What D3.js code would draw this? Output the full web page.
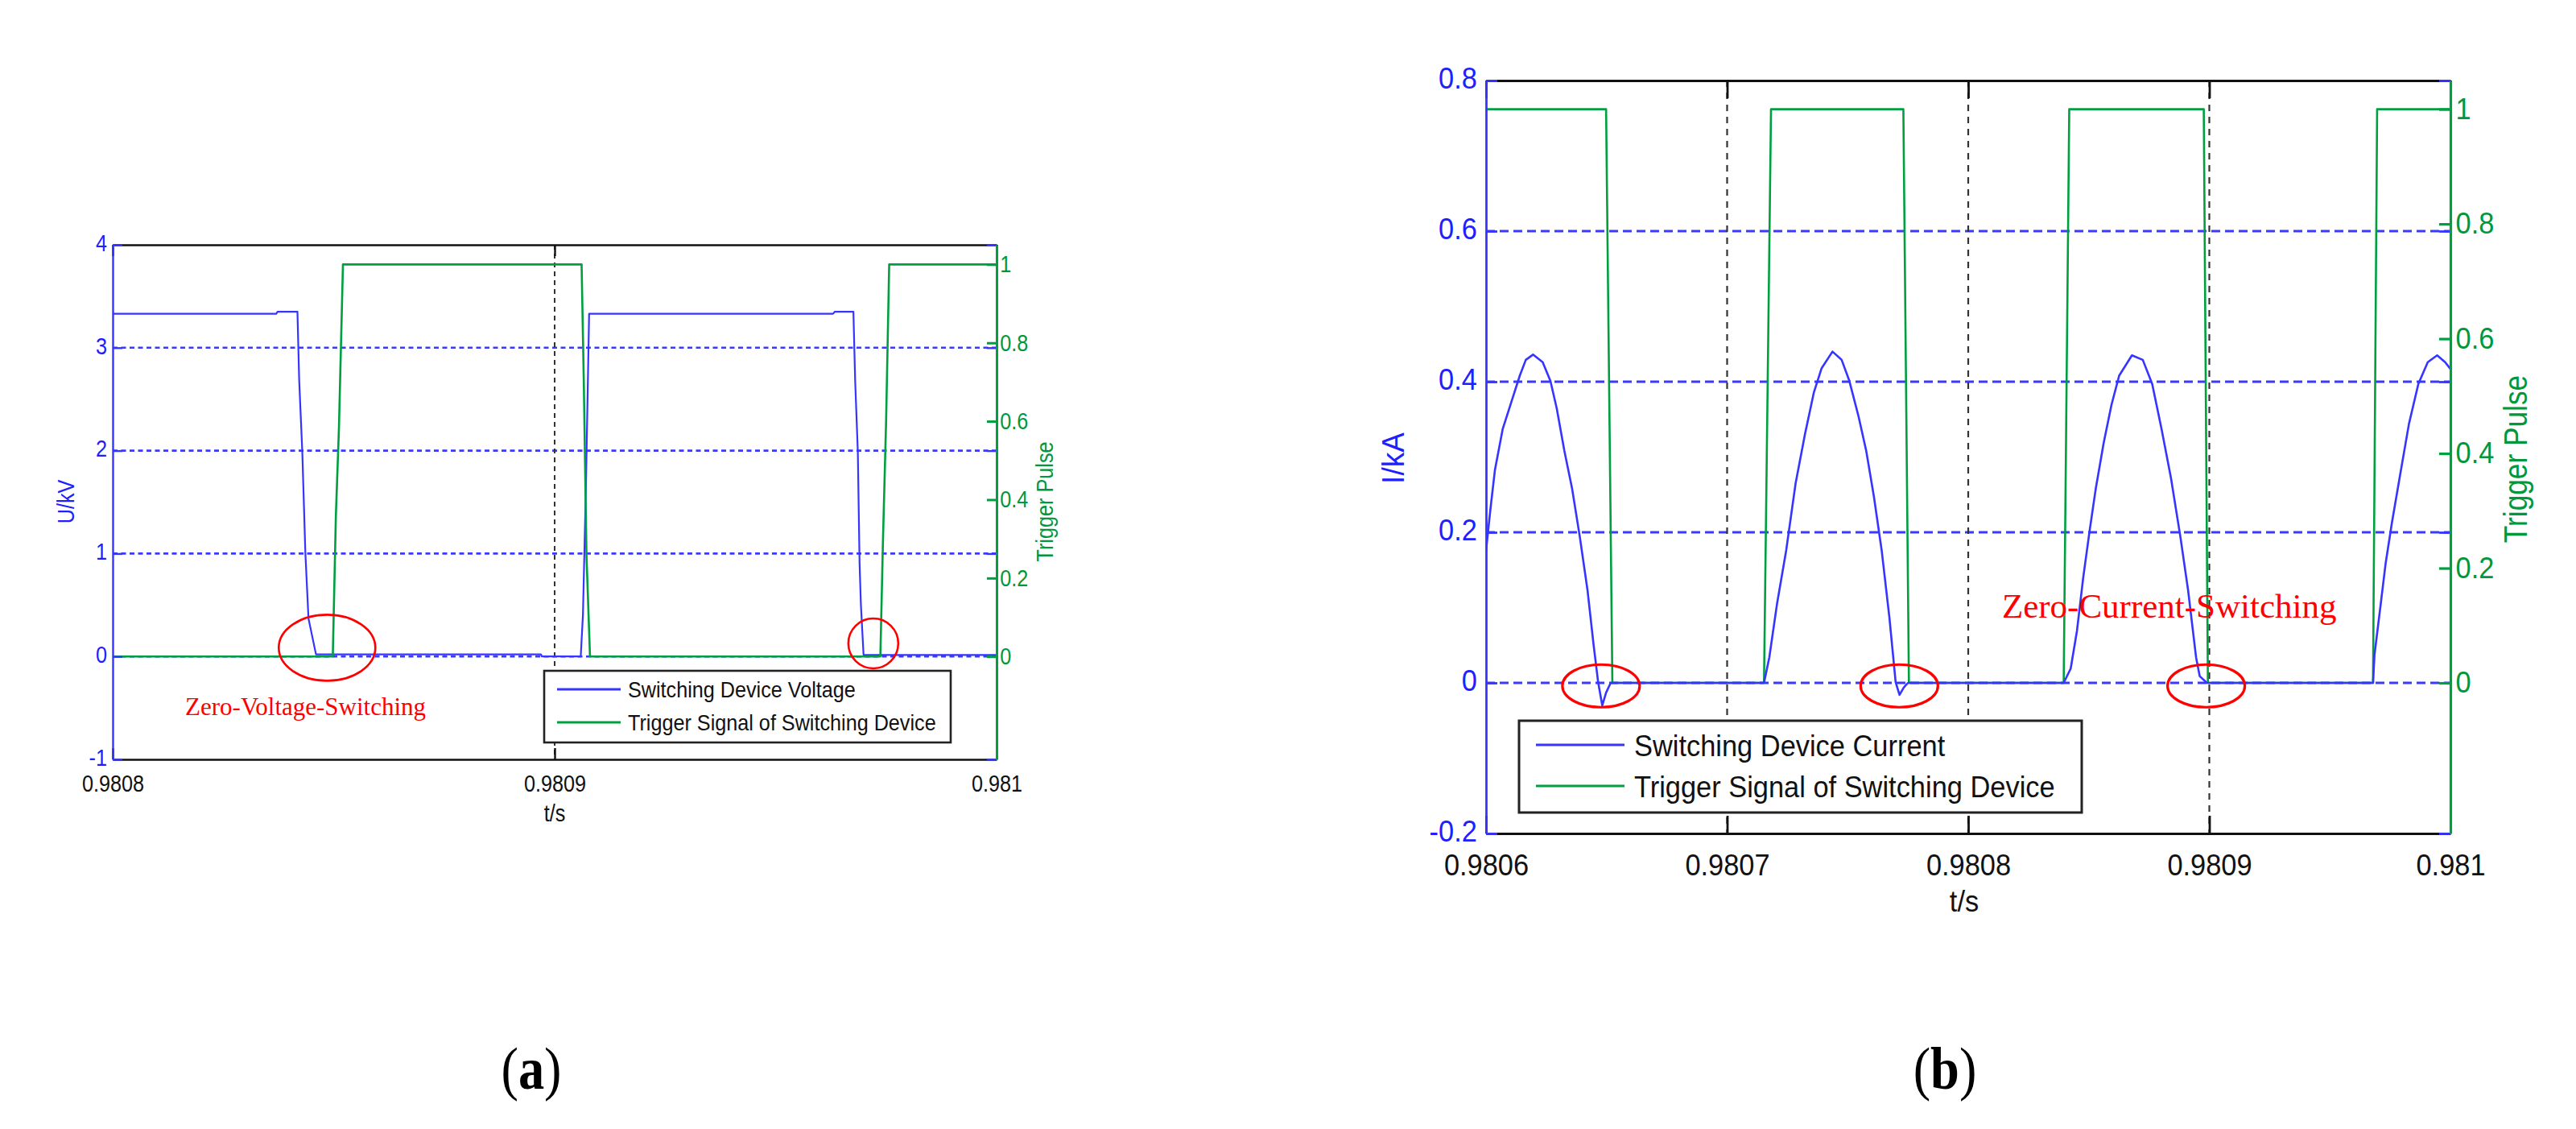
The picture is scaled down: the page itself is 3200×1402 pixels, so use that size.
<!DOCTYPE html>
<html><head><meta charset="utf-8">
<script src="https://cdn.jsdelivr.net/npm/d3@7"></script>
<style>body{margin:0;background:#fff}svg{display:block}</style>
</head><body>
<svg id="c" width="3200" height="1402"></svg>
<script>
// ---------------- DATA ----------------
// Panel (a): switching device voltage (kV) and trigger pulse
const voltageT = [0.9808000,0.9808370,0.9808373,0.9808418,0.9808422,0.9808429,0.9808436,0.9808443,0.9808460,0.9808969,0.9808971,0.9809059,0.9809064,0.9809071,0.9809078,0.9809630,0.9809634,0.9809676,0.9809680,0.9809686,0.9809690,0.9809693,0.9809699,0.9810000];
const voltageV = [3.33,3.33,3.35,3.35,2.68,1.99,1.0,0.37,0.02,0.02,0.0,0.0,0.4,1.7,3.33,3.33,3.35,3.35,2.68,1.99,0.9,0.5,0.015,0.015];
const triggerAT = [0.9808000,0.9808498,0.9808505,0.9808512,0.9808521,0.9809061,0.9809066,0.9809072,0.9809080,0.9809737,0.9809743,0.9809750,0.9809757,0.9810000];
const triggerAV = [0,0,0.36,0.585,1,1,0.7,0.26,0,0,0.3,0.6,1,1];

// Panel (b): switching device current (kA) and trigger pulse
const currentT = [0.9806000,0.9806008,0.9806018,0.9806037,0.9806069,0.9806108,0.9806140,0.9806165,0.9806195,0.9806235,0.9806267,0.9806293,0.9806325,0.9806357,0.9806389,0.9806421,0.9806446,0.9806465,0.9806482,0.9806498,0.9806517,
  0.9807153,0.9807175,0.9807207,0.9807245,0.9807284,0.9807322,0.9807360,0.9807392,0.9807437,0.9807475,0.9807507,0.9807545,0.9807577,0.9807609,0.9807641,0.9807673,0.9807699,0.9807715,0.9807733,0.9807750,
  0.9808396,0.9808425,0.9808451,0.9808477,0.9808503,0.9808529,0.9808562,0.9808594,0.9808626,0.9808679,0.9808724,0.9808763,0.9808802,0.9808841,0.9808880,0.9808912,0.9808945,0.9808960,0.9808990,
  0.9809679,0.9809685,0.9809711,0.9809731,0.9809757,0.9809789,0.9809828,0.9809867,0.9809906,0.9809945,0.9809978,0.9810000];
const currentI = [0.175,0.200,0.230,0.283,0.337,0.376,0.408,0.429,0.436,0.426,0.401,0.365,0.308,0.258,0.194,0.123,0.051,0.001,-0.030,-0.013,0.0,
  0.0,0.034,0.105,0.176,0.265,0.329,0.386,0.418,0.440,0.429,0.401,0.354,0.308,0.247,0.176,0.087,0.001,-0.016,-0.006,0.0,
  0.0,0.019,0.069,0.140,0.201,0.258,0.319,0.369,0.408,0.435,0.429,0.397,0.337,0.272,0.194,0.123,0.034,0.009,0.0,
  0.0,0.037,0.105,0.158,0.212,0.272,0.344,0.397,0.426,0.435,0.426,0.417];
const triggerBT = [0.9806000,0.9806498,0.9806524,0.9807153,0.9807182,0.9807731,0.9807754,0.9808396,0.9808419,0.9808977,0.9808994,0.9809679,0.9809696,0.9810000];
const triggerBV = [1,1,0,0,1,1,0,0,1,1,0,0,1,1];

// Axes / ticks
const xDomainA = [0.9808, 0.9810];
const xTicksA = [0.9808, 0.9809, 0.9810];
const xTickLabelsA = ["0.9808", "0.9809", "0.981"];
const leftDomainA = [-1, 4];
const leftTicksA = [-1, 0, 1, 2, 3, 4];
const leftTickLabelsA = ["-1", "0", "1", "2", "3", "4"];
const hGridA = [0, 1, 2, 3];
const vGridA = [0.9809];

const xDomainB = [0.9806, 0.9810];
const xTicksB = [0.9806, 0.9807, 0.9808, 0.9809, 0.9810];
const xTickLabelsB = ["0.9806", "0.9807", "0.9808", "0.9809", "0.981"];
const leftDomainB = [-0.2, 0.8];
const leftTicksB = [-0.2, 0, 0.2, 0.4, 0.6, 0.8];
const leftTickLabelsB = ["-0.2", "0", "0.2", "0.4", "0.6", "0.8"];
const hGridB = [0, 0.2, 0.4, 0.6];
const vGridB = [0.9807, 0.9808, 0.9809];

const rightDomain = [-0.2625, 1.05];
const rightTicks = [0, 0.2, 0.4, 0.6, 0.8, 1];
const rightTickLabels = ["0", "0.2", "0.4", "0.6", "0.8", "1"];

// Annotations
const seriesNamesA = ["Switching Device Voltage", "Trigger Signal of Switching Device"];
const seriesNamesB = ["Switching Device Current", "Trigger Signal of Switching Device"];
const zvsMarkT = [0.9808485, 0.9809721];
const zvsMarkV = [0.085, 0.127];
const zcsMarkT = [0.9806477, 0.9807714, 0.9808987];
const zcsMarkI = [-0.004, -0.004, -0.004];
const zvsLabel = {text: "Zero-Voltage-Switching", t: 0.9808164, v: -0.571};
const zcsLabel = {text: "Zero-Current-Switching", t: 0.9808140, v: 0.0866};

// ---------------- STYLE ----------------
const SANS = "'Liberation Sans', Arial, sans-serif";
const SERIF = "'Liberation Serif', 'Times New Roman', serif";
const LBLUE = "#3535ff", GBLUE = "#3a3aff", TBLUE = "#2020ff";
const GREEN = "#00a040", TGREEN = "#00983a", RED = "#ff0000";

const svg = d3.select("#c");

function txt(g, x, y, s, o) {
  const t = g.append("text")
    .attr("transform", `translate(${x},${y}) rotate(${o.rot||0}) scale(${o.sx||1},1)`)
    .attr("font-family", o.family || SANS)
    .attr("font-size", o.fs)
    .attr("fill", o.fill || "#111")
    .attr("text-anchor", o.anchor || "start")
    .text(s);
  if (o.weight) t.attr("font-weight", o.weight);
  return t;
}

function styleAxis(sel, lineColor, textColor, w, fs, sx, keepDomain, dy) {
  sel.attr("font-size", null).attr("font-family", null);
  if (keepDomain) sel.select(".domain").attr("stroke", lineColor).attr("stroke-width", w);
  else sel.select(".domain").remove();
  sel.selectAll(".tick line").attr("stroke", lineColor).attr("stroke-width", w);
  const t = sel.selectAll(".tick text").attr("fill", textColor).attr("font-size", fs)
    .attr("font-family", SANS).attr("transform", `scale(${sx},1)`);
  if (dy) t.attr("dy", dy);
}

function drawPanel(p) {
  const g = svg.append("g");
  const x = d3.scaleLinear().domain(p.xDomain).range([p.left, p.right]);
  const yL = d3.scaleLinear().domain(p.leftDomain).range([p.bottom, p.top]);
  const yR = d3.scaleLinear().domain(rightDomain).range([p.bottom, p.top]);

  svg.append("clipPath").attr("id", "clip" + p.id).append("rect")
    .attr("x", p.left).attr("y", p.top - 2).attr("width", p.right - p.left).attr("height", p.bottom - p.top + 4);

  // grids
  g.append("g").selectAll("line").data(p.hGrid).join("line")
    .attr("x1", p.left).attr("x2", p.right).attr("y1", d => yL(d)).attr("y2", d => yL(d))
    .attr("stroke", GBLUE).attr("stroke-width", p.gridW).attr("stroke-dasharray", p.hDash);
  g.append("g").selectAll("line").data(p.vGrid).join("line")
    .attr("x1", d => x(d)).attr("x2", d => x(d)).attr("y1", p.top).attr("y2", p.bottom)
    .attr("stroke", "#333").attr("stroke-width", p.vGridW).attr("stroke-dasharray", p.vDash);

  const lineL = d3.line().x(d => x(d[0])).y(d => yL(d[1]));
  const lineR = d3.line().x(d => x(d[0])).y(d => yR(d[1]));
  const series = g.append("g").attr("clip-path", `url(#clip${p.id})`);
  const drawBlue = () => series.append("path").datum(d3.zip(p.blueT, p.blueV)).attr("d", lineL)
    .attr("fill", "none").attr("stroke", LBLUE).attr("stroke-width", p.blueW).attr("stroke-linejoin", "round");
  const drawGreen = () => series.append("path").datum(d3.zip(p.greenT, p.greenV)).attr("d", lineR)
    .attr("fill", "none").attr("stroke", GREEN).attr("stroke-width", p.greenW).attr("stroke-linejoin", "round");
  if (p.blueOnTop) { drawGreen(); drawBlue(); } else { drawBlue(); drawGreen(); }

  // top frame line with ticks
  g.append("g").attr("transform", `translate(0,${p.top})`)
    .call(d3.axisTop(x).tickValues(p.xTicks).tickFormat(() => "").tickSizeInner(-p.xTickLen).tickSizeOuter(0))
    .call(s => styleAxis(s, "#111", "#111", p.axisW, p.fs, p.sx, true));
  // bottom axis
  g.append("g").attr("transform", `translate(0,${p.bottom})`)
    .call(d3.axisBottom(x).tickValues(p.xTicks).tickFormat((d, i) => p.xTickLabels[i])
      .tickSizeInner(-p.xTickLen).tickSizeOuter(0).tickPadding(p.xPad))
    .call(s => styleAxis(s, "#111", "#111", p.axisW, p.fs, p.sx, true));
  // mirrored left ticks on right side
  g.append("g").attr("transform", `translate(${p.right},0)`)
    .call(d3.axisRight(yL).tickValues(p.leftTicks).tickFormat(() => "").tickSizeInner(-p.yTickLen).tickSizeOuter(0))
    .call(s => styleAxis(s, LBLUE, TBLUE, p.axisW, p.fs, p.sx, false));
  // left axis
  g.append("g").attr("transform", `translate(${p.left},0)`)
    .call(d3.axisLeft(yL).tickValues(p.leftTicks).tickFormat((d, i) => p.leftTickLabels[i])
      .tickSizeInner(-p.yTickLen).tickSizeOuter(0).tickPadding(p.lPad))
    .call(s => styleAxis(s, LBLUE, TBLUE, p.axisW, p.fs, p.sx, true, "0.25em"));
  // right axis
  g.append("g").attr("transform", `translate(${p.right},0)`)
    .call(d3.axisRight(yR).tickValues(rightTicks).tickFormat((d, i) => rightTickLabels[i])
      .tickSizeInner(-p.yTickLen).tickSizeOuter(0).tickPadding(p.rPad))
    .call(s => styleAxis(s, GREEN, TGREEN, p.rAxisW, p.fs, p.sx, true));

  return {g, x, yL, yR};
}

// ---------------- PANEL (a) ----------------
const A = drawPanel({
  id: "a", left: 140, right: 1238, top: 304, bottom: 943,
  xDomain: xDomainA, leftDomain: leftDomainA,
  xTicks: xTicksA, xTickLabels: xTickLabelsA,
  leftTicks: leftTicksA, leftTickLabels: leftTickLabelsA,
  hGrid: hGridA, vGrid: vGridA,
  blueT: voltageT, blueV: voltageV, greenT: triggerAT, greenV: triggerAV,
  blueW: 2.2, greenW: 2.6, blueOnTop: false,
  gridW: 2.6, hDash: "6,4.5", vGridW: 2, vDash: "6,5",
  axisW: 2.4, rAxisW: 3, xTickLen: 14, yTickLen: 12,
  fs: 29, sx: 0.87, xPad: 19, lPad: 8, rPad: 5
});
{
  const g = A.g;
  // axis titles
  txt(g, 689, 1020, "t/s", {fs: 29, sx: 0.87, anchor: "middle"});
  txt(g, 92, 623, "U/kV", {fs: 29, sx: 0.87, anchor: "middle", rot: -90, fill: TBLUE});
  txt(g, 1308, 623, "Trigger Pulse", {fs: 29, sx: 0.87, anchor: "middle", rot: -90, fill: TGREEN});
  // annotation ellipses
  const rx = [60, 31], ry = [41, 31];
  g.selectAll(".zvs").data(d3.range(zvsMarkT.length)).join("ellipse")
    .attr("cx", i => A.x(zvsMarkT[i])).attr("cy", i => A.yL(zvsMarkV[i]))
    .attr("rx", i => rx[i]).attr("ry", i => ry[i])
    .attr("fill", "none").attr("stroke", RED).attr("stroke-width", 2.6);
  txt(g, A.x(zvsLabel.t), A.yL(zvsLabel.v), zvsLabel.text, {fs: 31, family: SERIF, fill: RED});
  // legend
  const lg = g.append("g");
  lg.append("rect").attr("x", 676).attr("y", 833).attr("width", 505).attr("height", 89)
    .attr("fill", "#fff").attr("stroke", "#222").attr("stroke-width", 2.6);
  const ly = [856, 897], lc = [LBLUE, GREEN];
  seriesNamesA.forEach((n, i) => {
    lg.append("line").attr("x1", 692).attr("x2", 771).attr("y1", ly[i]).attr("y2", ly[i])
      .attr("stroke", lc[i]).attr("stroke-width", 3);
    txt(lg, 780, ly[i] + 10, n, {fs: 28, sx: 0.9, fill: "#111"});
  });
}

// ---------------- PANEL (b) ----------------
const B = drawPanel({
  id: "b", left: 1846, right: 3044, top: 100, bottom: 1035,
  xDomain: xDomainB, leftDomain: leftDomainB,
  xTicks: xTicksB, xTickLabels: xTickLabelsB,
  leftTicks: leftTicksB, leftTickLabels: leftTickLabelsB,
  hGrid: hGridB, vGrid: vGridB,
  blueT: currentT, blueV: currentI, greenT: triggerBT, greenV: triggerBV,
  blueW: 2.6, greenW: 2.6, blueOnTop: true,
  gridW: 2.8, hDash: "11,6", vGridW: 2.2, vDash: "8,7",
  axisW: 2.8, rAxisW: 3.2, xTickLen: 22, yTickLen: 14,
  fs: 37, sx: 0.93, xPad: 26, lPad: 12, rPad: 7
});
{
  const g = B.g;
  txt(g, 2440, 1132, "t/s", {fs: 37, sx: 0.93, anchor: "middle"});
  txt(g, 1744, 569, "I/kA", {fs: 39, sx: 0.95, anchor: "middle", rot: -90, fill: TBLUE});
  txt(g, 3139, 570, "Trigger Pulse", {fs: 41, sx: 0.86, anchor: "middle", rot: -90, fill: TGREEN});
  g.selectAll(".zcs").data(d3.range(zcsMarkT.length)).join("ellipse")
    .attr("cx", i => B.x(zcsMarkT[i])).attr("cy", i => B.yL(zcsMarkI[i]))
    .attr("rx", 48).attr("ry", 26.5)
    .attr("fill", "none").attr("stroke", RED).attr("stroke-width", 3.2);
  txt(g, B.x(zcsLabel.t), B.yL(zcsLabel.v), zcsLabel.text, {fs: 43, family: SERIF, fill: RED});
  const lg = g.append("g");
  lg.append("rect").attr("x", 1887).attr("y", 895).attr("width", 699).attr("height", 114)
    .attr("fill", "#fff").attr("stroke", "#222").attr("stroke-width", 3);
  const ly = [925, 976], lc = [LBLUE, GREEN];
  seriesNamesB.forEach((n, i) => {
    lg.append("line").attr("x1", 1908).attr("x2", 2018).attr("y1", ly[i]).attr("y2", ly[i])
      .attr("stroke", lc[i]).attr("stroke-width", 3.2);
    txt(lg, 2030, ly[i] + 14, n, {fs: 37, sx: 0.93, fill: "#111"});
  });
}

// ---------------- CAPTIONS ----------------
[["(a)", 660], ["(b)", 2416]].forEach(([s, cx]) => {
  const t = svg.append("text")
    .attr("transform", `translate(${cx},1352) scale(0.87,1)`)
    .attr("font-family", SERIF).attr("font-size", 74).attr("text-anchor", "middle").attr("fill", "#000");
  t.append("tspan").text("(");
  t.append("tspan").attr("font-weight", "bold").text(s[1]);
  t.append("tspan").text(")");
});
</script>
</body></html>
